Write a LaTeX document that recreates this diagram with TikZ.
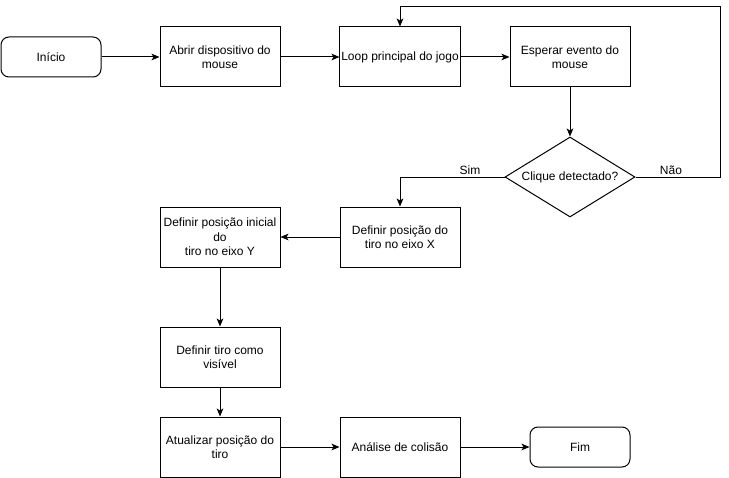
\documentclass[tikz,border=0pt]{standalone}
\usepackage{fontspec}
\setmainfont{Liberation Sans}
\usetikzlibrary{arrows.meta,shapes.geometric}
\begin{document}
\begin{tikzpicture}[x=0.75pt,y=-0.75pt,
  line width=0.75pt,
  font=\fontsize{9}{10.8}\selectfont,
  box/.style={draw,rectangle,minimum width=90pt,minimum height=45pt,align=center,inner sep=1pt},
  term/.style={draw,rectangle,rounded corners=6pt,minimum width=75pt,minimum height=30pt,align=center},
  dec/.style={draw,diamond,aspect=1.625,minimum width=97.5pt,minimum height=60pt,inner sep=0pt,align=center},
  arr/.style={-{Stealth[length=6pt,width=5pt,inset=1.5pt]}},
  lbl/.style={font=\fontsize{9}{10.8}\selectfont}]
\useasboundingbox (0,0) rectangle (729,478);
\node[term] (inicio) at (51,57) {Início};
\node[box] (abrir) at (220,57) {Abrir dispositivo do\\mouse};
\node[box] (loop) at (400,57) {Loop principal do jogo};
\node[box] (esperar) at (570,57) {Esperar evento do\\mouse};
\node[dec] (clique) at (570,177) {Clique detectado?};
\node[box] (defx) at (400,237) {Definir posição do\\tiro no eixo X};
\node[box] (defy) at (220,237) {Definir posição inicial\\do\\tiro no eixo Y};
\node[box] (visivel) at (220,357) {Definir tiro como\\visível};
\node[box] (atual) at (220,447) {Atualizar posição do\\tiro};
\node[box] (analise) at (400,447) {Análise de colisão};
\node[term] (fim) at (580,447) {Fim};
\coordinate (c1) at (720,177);
\coordinate (c2) at (720,7);
\coordinate (c3) at (400,7);
\coordinate (c4) at (400,177);
\draw[arr] (inicio) -- (abrir);
\draw[arr] (abrir) -- (loop);
\draw[arr] (loop) -- (esperar);
\draw[arr] (esperar) -- (clique);
\draw[arr] (clique.east) -- (c1) -- (c2) -- (c3) -- (loop.north);
\draw[arr] (clique.west) -- (c4) -- (defx.north);
\node[lbl] (nao) at (671,170) {Não};
\node[lbl] (sim) at (470,170) {Sim};
\draw[arr] (defx) -- (defy);
\draw[arr] (defy) -- (visivel);
\draw[arr] (visivel) -- (atual);
\draw[arr] (atual) -- (analise);
\draw[arr] (analise) -- (fim);
\end{tikzpicture}
\end{document}
